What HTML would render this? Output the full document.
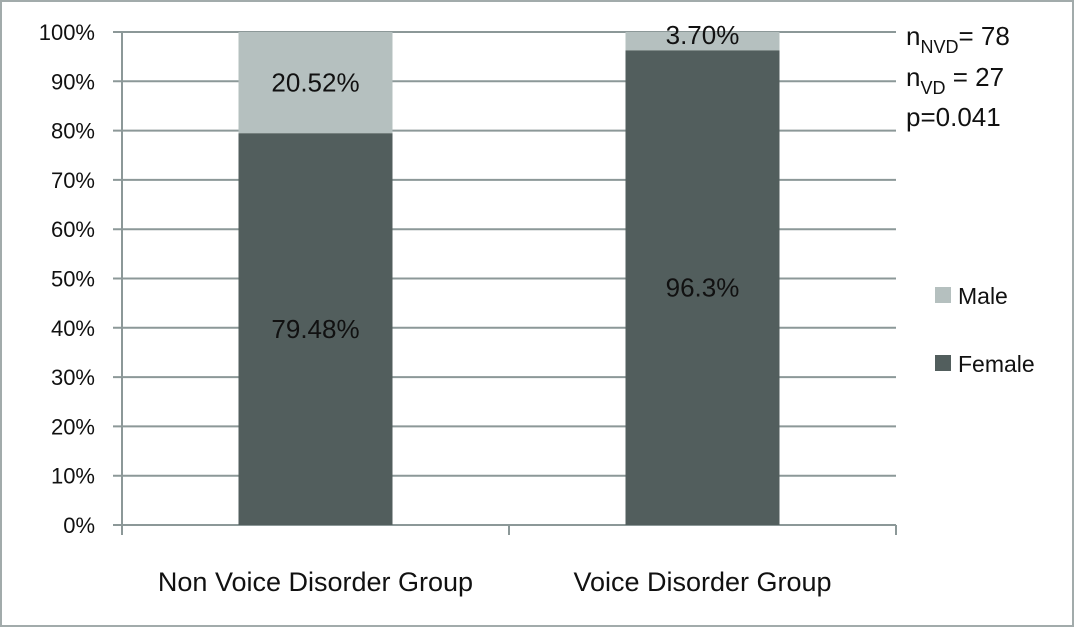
<!DOCTYPE html>
<html><head><meta charset="utf-8"><style>
body{margin:0;background:#fff}
svg{display:block;font-family:"Liberation Sans",sans-serif}
</style></head><body>
<svg width="1074" height="627" viewBox="0 0 1074 627">
<rect x="1" y="1" width="1072" height="625" fill="#fff" stroke="#a2abab" stroke-width="2"/>
<g id="grid"></g>
<g id="ylabels"></g>
<g id="bars"></g>
<g id="xlabels"></g>
<g>
<rect x="935" y="287" width="16" height="16" fill="#b5c0bf"/>
<text x="958" y="304" font-size="23" fill="#111">Male</text>
<rect x="935" y="355" width="16" height="16" fill="#525e5d"/>
<text x="958" y="372" font-size="23" fill="#111">Female</text>
</g>
<g font-size="26" fill="#111">
<text x="906" y="45">n<tspan font-size="18" dy="8">NVD</tspan><tspan dy="-8">= 78</tspan></text>
<text x="906" y="86">n<tspan font-size="18" dy="8">VD</tspan><tspan dy="-8"> = 27</tspan></text>
<text x="906" y="126">p=0.041</text>
</g>
</svg>
<script>
const categories=["Non Voice Disorder Group","Voice Disorder Group"];
const female=[79.48,96.3];
const male=[20.52,3.70];
const femaleLabels=["79.48%","96.3%"];
const maleLabels=["20.52%","3.70%"];
const yTicks=[0,10,20,30,40,50,60,70,80,90,100];
const NS="http://www.w3.org/2000/svg";
const x0=122,x1=896,y0=525,y1=32;
const y=v=>y0-(v/100)*(y0-y1);
const cw=(x1-x0)/categories.length;
const bw=154;
function mk(tag,attrs,parent){const e=document.createElementNS(NS,tag);for(const k in attrs)e.setAttribute(k,attrs[k]);parent.appendChild(e);return e;}
const grid=document.getElementById('grid'),yl=document.getElementById('ylabels'),bars=document.getElementById('bars'),xl=document.getElementById('xlabels');
yTicks.forEach(t=>{
 const l=mk('line',{x1:113,x2:x1,y1:y(t),y2:y(t),stroke:'#8c9898','stroke-width':2},grid);
 
 
 const tx=mk('text',{x:95,y:y(t)+8,'text-anchor':'end','font-size':22,fill:'#111'},yl);
 tx.textContent=t+'%';
 
 
});
const ax=mk('line',{x1:x0,x2:x0,y1:y1,y2:y0+10,stroke:'#8c9898','stroke-width':2},grid);


for(let i=0;i<=categories.length;i++){
 const tk=mk('line',{x1:x0+i*cw,x2:x0+i*cw,y1:y0,y2:y0+10,stroke:'#8c9898','stroke-width':2},grid);
 
 
}
categories.forEach((c,i)=>{
 const cx=x0+cw*(i+0.5);
 const bf=mk('rect',{x:cx-bw/2,y:y(female[i]),width:bw,height:y0-y(female[i]),fill:'#525e5d'},bars);
 
 
 const bm=mk('rect',{x:cx-bw/2,y:y(female[i]+male[i]),width:bw,height:y(female[i])-y(female[i]+male[i]),fill:'#b5c0bf'},bars);
 
 
 const fl=mk('text',{x:cx,y:y(female[i]/2)+9,'text-anchor':'middle','font-size':26,fill:'#111'},bars);
 fl.textContent=femaleLabels[i];
 
 
 const ml=mk('text',{x:cx,y:(male[i]<8?y(100)+12:y(female[i]+male[i]/2)+9),'text-anchor':'middle','font-size':26,fill:'#111'},bars);
 ml.textContent=maleLabels[i];
 
 
 const cl=mk('text',{x:cx,y:591,'text-anchor':'middle','font-size':27,fill:'#111'},xl);
 cl.textContent=c;
 
 
});
</script>
</body></html>
